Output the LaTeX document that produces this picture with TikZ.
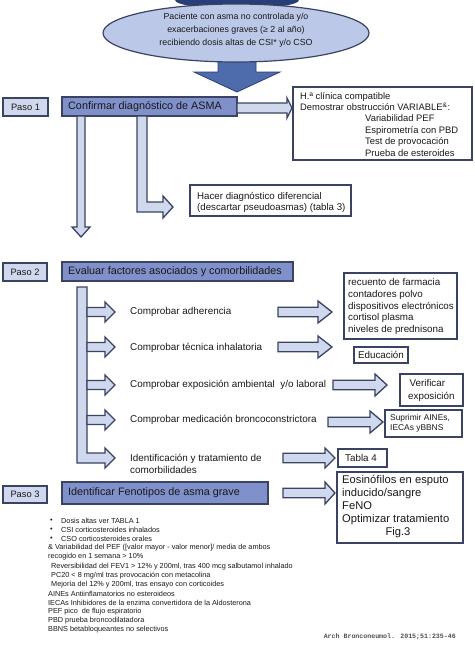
\documentclass[tikz,border=0pt]{standalone}
\usepackage{fontspec}
\setmainfont{Liberation Sans}
\newfontfamily\monof{Liberation Mono}
\usetikzlibrary{shapes.geometric}
\definecolor{lightfill}{RGB}{208,216,238}
\definecolor{medfill}{RGB}{128,144,202}
\definecolor{ellfill}{RGB}{188,200,232}
\definecolor{bordc}{RGB}{58,68,98}
\definecolor{bigblue}{RGB}{78,108,172}
\definecolor{darkblue}{RGB}{40,62,120}
\definecolor{txt}{RGB}{25,25,25}
\definecolor{graytxt}{RGB}{80,80,80}
\newcommand\fs[2]{\fontsize{#1}{#2}\selectfont}
% box: style, name, x1, y1, x2, y2
\newcommand\boxat[6]{\node[#1, minimum width={(#5-#3)*1pt}, minimum height={(#6-#4)*1pt}] (#2) at ({(#3+#5)/2},{(#4+#6)/2}) {};}
% right block arrow: xstart, headbase, tip, yc, shaft half, head half
\newcommand\blockR[6]{\draw[blk] (#1,{#4-#5}) -- (#2,{#4-#5}) -- (#2,{#4-#6}) -- (#3,#4) -- (#2,{#4+#6}) -- (#2,{#4+#5}) -- (#1,{#4+#5}) -- cycle;}
\begin{document}
\begin{tikzpicture}[x=1pt,y=-1pt,
  box/.style={draw=bordc, line width=1.5pt, inner sep=0pt},
  pbox/.style={box, fill=lightfill},
  mbox/.style={box, fill=medfill},
  wbox/.style={box, fill=white},
  blk/.style={draw=bordc, line width=1.3pt, fill=lightfill, line join=miter},
  t/.style={inner sep=0pt, text=txt, anchor=west, align=left},
  tc/.style={inner sep=0pt, text=txt, align=center},
  fn/.style={inner sep=0pt, text=txt, anchor=west, font=\fs{7.3}{9}},
]
\useasboundingbox (0,0) rectangle (474,648);
\fill[white] (0,0) rectangle (474,648);

% top ellipse and big arrow
\fill[darkblue] (237,0) ellipse [x radius=62, y radius=9];
\draw[draw=darkblue, fill=bigblue, line width=0.8pt] (218,50) -- (256,50) -- (256,72) -- (280,72) -- (237,92) -- (194,72) -- (218,72) -- cycle;
\node[ellipse, draw=bordc, line width=1.2pt, fill=ellfill, minimum width=266pt, minimum height=58pt, inner sep=0pt] (start) at (236,33) {};
\node[tc, font=\fs{8.8}{12.8}] (starttxt) at (236,30) {Paciente con asma no controlada y/o\\exacerbaciones graves (≥ 2 al año)\\recibiendo dosis altas de CSI* y/o CSO};

% Paso 1
\boxat{pbox}{p1}{3}{98}{48}{116}
\node[tc, font=\fs{9.3}{11}] at (p1) {Paso 1};
\boxat{mbox}{conf}{62}{97}{237}{116}
\node[t, font=\fs{10.8}{12}] at (68,106.5) {Confirmar diagnóstico de ASMA};
\boxat{wbox}{hbox}{293}{87}{472}{160}
\node[t, font=\fs{9.4}{11.5}] at (300,101.8) {H.ª clínica compatible\\Demostrar obstrucción VARIABLE\textsuperscript{\&}:};
\node[t, font=\fs{9.4}{11.6}] at (365,135.5) {Variabilidad PEF\\Espirometría con PBD\\Test de provocación\\Prueba de esteroides};
\blockR{237}{287}{292}{108}{5}{10}
\boxat{wbox}{hacer}{190}{185}{351}{216}
\node[t, font=\fs{9.7}{11.5}] at (197,202.5) {Hacer diagnóstico diferencial\\(descartar pseudoasmas) (tabla 3)};
% bent arrow
\draw[blk] (137,116) -- (147,116) -- (147,202) -- (163,202) -- (163,196) -- (173,207) -- (163,218) -- (163,212) -- (137,212) -- cycle;
% vertical arrow to paso 2
\draw[blk] (77,116) -- (85,116) -- (85,227) -- (90,227) -- (81,237) -- (72,227) -- (77,227) -- cycle;

% Paso 2
\boxat{pbox}{p2}{3}{263}{47}{281}
\node[tc, font=\fs{9.3}{11}] at (p2) {Paso 2};
\boxat{mbox}{eval}{62}{262}{293}{281}
\node[t, font=\fs{10.8}{12}] at (68,271.5) {Evaluar factores asociados y comorbilidades};
% trunk
\draw[blk] (77,287) -- (87,287) -- (87,453) -- (105,453) -- (105,448) -- (115,458) -- (105,468) -- (105,463) -- (77,463) -- cycle;
\blockR{87}{105}{115}{312}{4.5}{10}
\blockR{87}{105}{115}{347}{4.5}{10}
\blockR{87}{105}{115}{385}{4.5}{10}
\blockR{87}{105}{115}{420}{4.5}{10}
\node[t, font=\fs{9.9}{12}] at (130,312) {Comprobar adherencia};
\node[t, font=\fs{9.9}{12}] at (130,348) {Comprobar técnica inhalatoria};
\node[t, font=\fs{9.9}{12}] at (130,385) {Comprobar exposición ambiental\ \ y/o laboral};
\node[t, font=\fs{9.9}{12}] at (130,420) {Comprobar medicación broncoconstrictora};
\node[t, font=\fs{9.9}{12}] at (130,464) {Identificación y tratamiento de\\comorbilidades};
% column 2 arrows
\blockR{278}{318}{332}{312}{4.8}{11}
\blockR{278}{318}{332}{347}{4.8}{11}
\blockR{333}{375}{387}{385}{4.8}{11}
\blockR{328}{370}{383}{422}{4.8}{11}
\blockR{283}{325}{335}{458}{4.8}{10}
\blockR{283}{325}{335}{493}{4.8}{11}
% right boxes
\boxat{wbox}{adh}{344}{273}{457}{339}
\node[t, font=\fs{9.8}{11.75}] at (348,306.5) {recuento de farmacia\\contadores polvo\\dispositivos electrónicos\\cortisol plasma\\niveles de prednisona};
\boxat{wbox}{edu}{354}{347}{408}{363}
\node[tc, font=\fs{9.8}{11}] at (edu) {Educación};
\boxat{wbox}{ver}{400}{374}{463}{406}
\node[t, font=\fs{9.8}{12.5}] at (408,390.5) {\hspace*{1.5pt}Verificar\\exposición};
\boxat{wbox}{sup}{385}{410}{462}{437}
\node[t, font=\fs{8.4}{10.2}] at (390,423.5) {Suprimir AINEs,\\IECAs yBBNS};
\boxat{wbox}{tab}{338}{449}{387}{467}
\node[t, font=\fs{9.8}{11}] at (345,458) {Tabla 4};
\boxat{wbox}{eos}{337}{472}{463}{543}
\node[t, font=\fs{11.2}{13.3}] at (342,500) {Eosinófilos en esputo\\inducido/sangre\\FeNO\\Optimizar tratamiento};
\node[tc, font=\fs{11.2}{13.3}] at (398,533) {Fig.3};

% Paso 3
\boxat{pbox}{p3}{3}{486}{47}{503}
\node[tc, font=\fs{9.3}{11}] at (p3) {Paso 3};
\boxat{mbox}{fen}{62}{482}{268}{504}
\node[t, font=\fs{10.8}{12}] at (68,493) {Identificar Fenotipos de asma grave};

% footnotes
\node[fn] at (50,521) {•}; \node[fn] at (61,521) {Dosis altas ver TABLA 1};
\node[fn] at (50,530) {•}; \node[fn] at (61,530) {CSI corticosteroides inhalados};
\node[fn] at (50,539) {•}; \node[fn] at (61,539) {CSO corticosteroides orales};
\node[fn] at (48,548) {\& Variabilidad del PEF ([valor mayor - valor menor]/ media de ambos};
\node[fn] at (48,557) {recogido en 1 semana > 10\%};
\node[fn] at (51,567) {Reversibilidad del FEV1 > 12\% y 200ml, tras 400 mcg salbutamol inhalado};
\node[fn] at (51,576) {PC20 < 8 mg/ml tras provocación con metacolina};
\node[fn] at (51,585) {Mejoría del 12\% y 200ml, tras ensayo con corticoides};
\node[fn] at (48,594) {AINEs Antiinflamatorios no esteroideos};
\node[fn] at (48,603) {IECAs Inhibidores de la enzima convertidora de la Aldosterona};
\node[fn] at (48,612) {PEF pico\ \ de flujo espiratorio};
\node[fn] at (48,621) {PBD prueba broncodilatadora};
\node[fn] at (48,630) {BBNS betabloqueantes no selectivos};
\node[inner sep=0pt, anchor=east, text=graytxt, font=\monof\bfseries\fs{6.6}{8}] (cite) at (456,637) {Arch Bronconeumol. 2015;51:235-46};
\end{tikzpicture}
\end{document}
